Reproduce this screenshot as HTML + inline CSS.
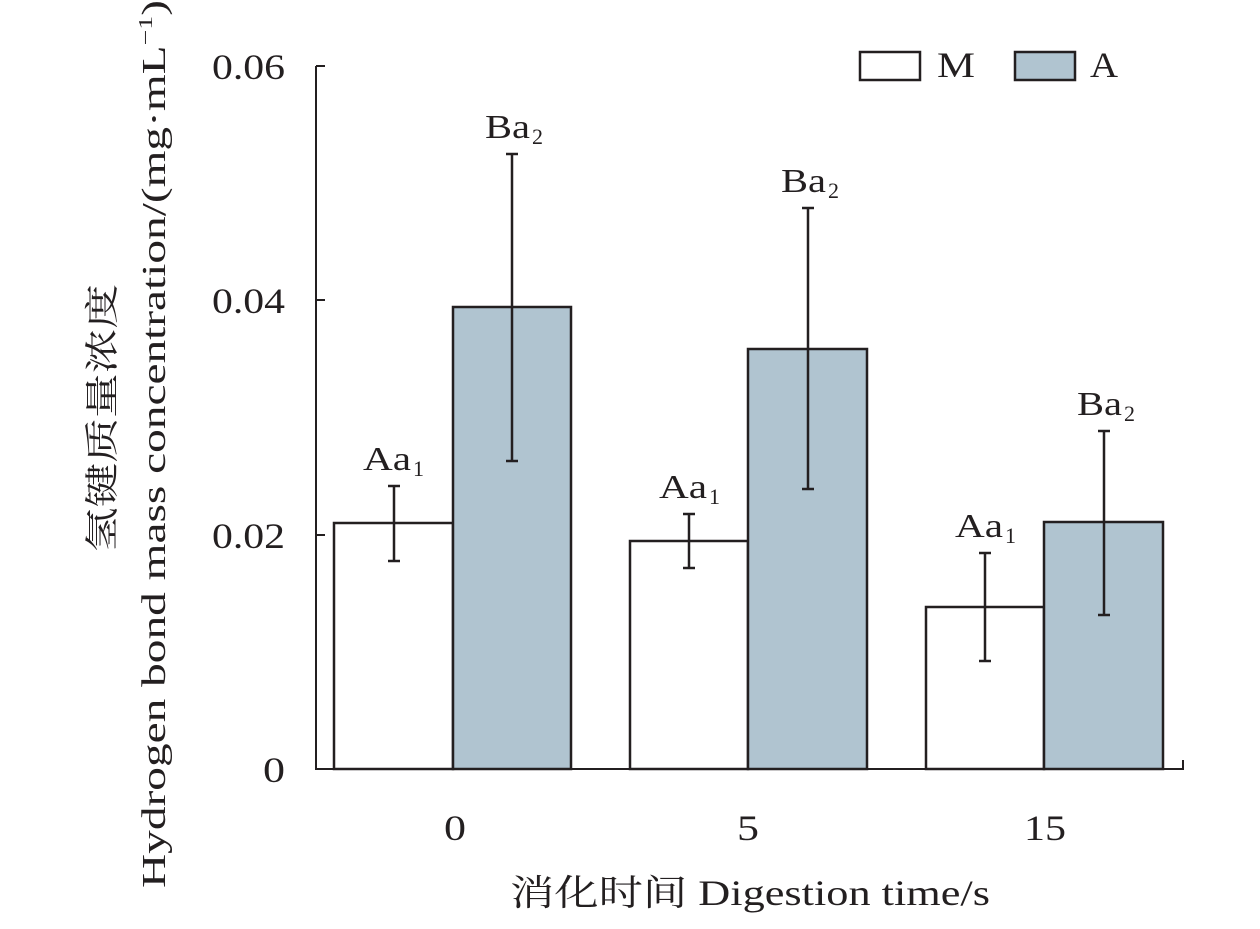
<!DOCTYPE html>
<html><head><meta charset="utf-8"><style>
html,body{margin:0;padding:0;background:#fff}
svg text{font-family:"Liberation Serif","Noto Serif CJK SC",serif;fill:#231f20}
</style></head><body>
<svg width="1260" height="924" viewBox="0 0 1260 924" xmlns="http://www.w3.org/2000/svg">
<g stroke="#231f20" stroke-width="2" fill="none">
<line x1="316" y1="66" x2="316" y2="770"/>
<line x1="315" y1="769" x2="1184" y2="769"/>
<line x1="316" y1="66" x2="325" y2="66"/>
<line x1="316" y1="300" x2="325" y2="300"/>
<line x1="316" y1="535" x2="325" y2="535"/>
<line x1="1183" y1="769" x2="1183" y2="760"/>
</g>
<g stroke="#231f20" stroke-width="2.5">
<rect x="334" y="523" width="119" height="246" fill="#fff"/>
<rect x="453" y="307" width="118" height="462" fill="#b0c4d0"/>
<rect x="630" y="541" width="118" height="228" fill="#fff"/>
<rect x="748" y="349" width="119" height="420" fill="#b0c4d0"/>
<rect x="926" y="607" width="118" height="162" fill="#fff"/>
<rect x="1044" y="522" width="119" height="247" fill="#b0c4d0"/>
</g>
<g stroke="#231f20" stroke-width="2.5">
<line x1="394" y1="486" x2="394" y2="561"/><line x1="388" y1="486" x2="400" y2="486"/><line x1="388" y1="561" x2="400" y2="561"/>
<line x1="512" y1="154" x2="512" y2="461"/><line x1="506" y1="154" x2="518" y2="154"/><line x1="506" y1="461" x2="518" y2="461"/>
<line x1="689" y1="514" x2="689" y2="568"/><line x1="683" y1="514" x2="695" y2="514"/><line x1="683" y1="568" x2="695" y2="568"/>
<line x1="808" y1="208" x2="808" y2="489"/><line x1="802" y1="208" x2="814" y2="208"/><line x1="802" y1="489" x2="814" y2="489"/>
<line x1="985" y1="553" x2="985" y2="661"/><line x1="979" y1="553" x2="991" y2="553"/><line x1="979" y1="661" x2="991" y2="661"/>
<line x1="1104" y1="431" x2="1104" y2="615"/><line x1="1098" y1="431" x2="1110" y2="431"/><line x1="1098" y1="615" x2="1110" y2="615"/>
</g>
<g font-size="36" lengthAdjust="spacingAndGlyphs">
<text x="212" y="79" textLength="73" lengthAdjust="spacingAndGlyphs">0.06</text>
<text x="212" y="313" textLength="73" lengthAdjust="spacingAndGlyphs">0.04</text>
<text x="212" y="548" textLength="73" lengthAdjust="spacingAndGlyphs">0.02</text>
<text x="263" y="782" textLength="22" lengthAdjust="spacingAndGlyphs">0</text>
<text x="444" y="840" textLength="22" lengthAdjust="spacingAndGlyphs">0</text>
<text x="737" y="840" textLength="22" lengthAdjust="spacingAndGlyphs">5</text>
<text x="1024" y="840" textLength="42" lengthAdjust="spacingAndGlyphs">15</text>
<text x="510" y="905" textLength="480" lengthAdjust="spacingAndGlyphs">消化时间 Digestion time/s</text>
</g>
<g font-size="34">
<text x="363" y="470" textLength="48" lengthAdjust="spacingAndGlyphs">Aa</text><text x="413" y="476" font-size="22">1</text>
<text x="485" y="138" textLength="45" lengthAdjust="spacingAndGlyphs">Ba</text><text x="532" y="144" font-size="22">2</text>
<text x="659" y="498" textLength="48" lengthAdjust="spacingAndGlyphs">Aa</text><text x="709" y="504" font-size="22">1</text>
<text x="781" y="192" textLength="45" lengthAdjust="spacingAndGlyphs">Ba</text><text x="828" y="198" font-size="22">2</text>
<text x="955" y="537" textLength="48" lengthAdjust="spacingAndGlyphs">Aa</text><text x="1005" y="543" font-size="22">1</text>
<text x="1077" y="415" textLength="45" lengthAdjust="spacingAndGlyphs">Ba</text><text x="1124" y="421" font-size="22">2</text>
</g>
<rect x="860" y="52" width="60" height="28" fill="#fff" stroke="#231f20" stroke-width="2.5"/>
<text x="937" y="77" font-size="36" textLength="38" lengthAdjust="spacingAndGlyphs">M</text>
<rect x="1015" y="52" width="60" height="28" fill="#b0c4d0" stroke="#231f20" stroke-width="2.5"/>
<text x="1090" y="77" font-size="36" textLength="28" lengthAdjust="spacingAndGlyphs">A</text>
<g font-size="34">
<text transform="translate(114,552) rotate(-90)" textLength="268" lengthAdjust="spacingAndGlyphs">氢键质量浓度</text>
<text transform="translate(165,888) rotate(-90)" textLength="888" lengthAdjust="spacingAndGlyphs">Hydrogen bond mass concentration/(mg·mL<tspan font-size="20" dy="-13">−1</tspan><tspan dy="13">)</tspan></text>
</g>
</svg>
</body></html>
